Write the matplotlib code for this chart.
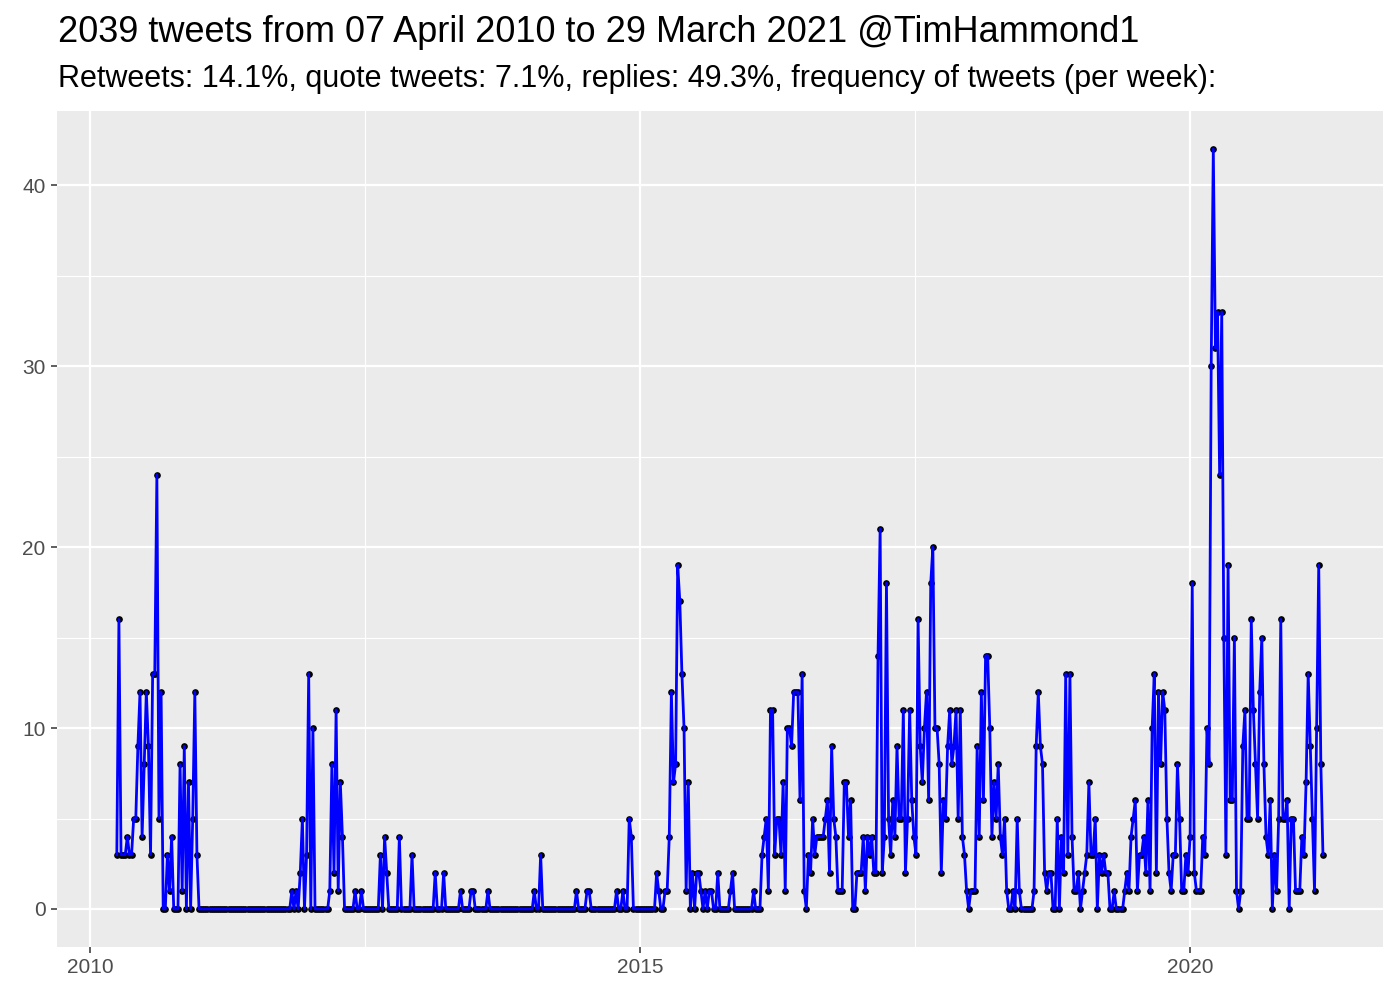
import datetime as dt
import matplotlib
matplotlib.use("Agg")
import matplotlib.pyplot as plt
import matplotlib.dates as mdates
from matplotlib.ticker import MultipleLocator

plt.rcParams['font.family'] = ['Liberation Sans', 'DejaVu Sans']

# weekly tweet counts, first week starting 31 March 2010
first_week = dt.date(2010, 3, 31)

tweets_2010 = [3, 16, 3, 3, 3, 4, 3, 3, 5, 5,
               9, 12, 4, 8, 12, 9, 3, 13, 13, 24,
               5, 12, 0, 0, 3, 1, 4, 0, 0, 0,
               8, 1, 9, 0, 7, 0, 5, 12, 3, 0]
tweets_2011 = [0] * 43 + [1, 0, 1, 0, 2, 5, 0, 3, 13]
tweets_2012 = [0, 10, 0, 0, 0, 0, 0, 0, 0, 1,
               8, 2, 11, 1, 7, 4, 0, 0, 0, 0,
               0, 1, 0, 0, 1, 0, 0, 0, 0, 0,
               0, 0, 0, 3, 0, 4, 2, 0, 0, 0,
               0, 0, 4, 0, 0, 0, 0, 0, 3, 0,
               0, 0]
tweets_2013 = [0, 0, 0, 0, 0, 0, 0, 2, 0, 0,
               0, 2, 0, 0, 0, 0, 0, 0, 0, 1,
               0, 0, 0, 0, 1, 1, 0, 0, 0, 0,
               0, 0, 1, 0, 0, 0, 0, 0, 0, 0,
               0, 0, 0, 0, 0, 0, 0, 0, 0, 0,
               0, 0]
tweets_2014 = [0, 0, 1, 0, 0, 3, 0, 0, 0, 0,
               0, 0, 0, 0, 0, 0, 0, 0, 0, 0,
               0, 0, 1, 0, 0, 0, 0, 1, 1, 0,
               0, 0, 0, 0, 0, 0, 0, 0, 0, 0,
               0, 1, 0, 0, 1, 0, 0, 5, 4, 0,
               0, 0, 0]
tweets_2015 = [0, 0, 0, 0, 0, 0, 0, 2, 1, 0,
               0, 1, 1, 4, 12, 7, 8, 19, 17, 13,
               10, 1, 7, 0, 2, 0, 2, 2, 1, 0,
               1, 0, 1, 1, 0, 0, 2, 0, 0, 0,
               0, 0, 1, 2, 0, 0, 0, 0, 0, 0,
               0, 0]
tweets_2016 = [0, 1, 0, 0, 0, 3, 4, 5, 1, 11,
               11, 3, 5, 5, 3, 7, 1, 10, 10, 9,
               12, 12, 12, 6, 13, 1, 0, 3, 2, 5,
               3, 4, 4, 4, 4, 5, 6, 2, 9, 5,
               4, 1, 1, 1, 7, 7, 4, 6, 0, 0,
               2, 2]
tweets_2017 = [2, 4, 1, 4, 3, 4, 2, 2, 14, 21,
               2, 4, 18, 5, 3, 6, 4, 9, 5, 5,
               11, 2, 5, 11, 6, 4, 3, 16, 9, 7,
               10, 12, 6, 18, 20, 10, 10, 8, 2, 6,
               5, 9, 11, 8, 9, 11, 5, 11, 4, 3,
               1, 0]
tweets_2018 = [1, 1, 1, 9, 4, 12, 6, 14, 14, 10,
               4, 7, 5, 8, 4, 3, 5, 1, 0, 0,
               1, 0, 5, 1, 0, 0, 0, 0, 0, 0,
               1, 9, 12, 9, 8, 2, 1, 2, 2, 0,
               0, 5, 0, 4, 2, 13, 3, 13, 4, 1,
               1, 2]
tweets_2019 = [0, 1, 2, 3, 7, 3, 3, 5, 0, 3,
               2, 3, 2, 2, 0, 0, 1, 0, 0, 0,
               0, 1, 2, 1, 4, 5, 6, 1, 3, 3,
               4, 2, 6, 1, 10, 13, 2, 12, 8, 12,
               11, 5, 2, 1, 3, 3, 8, 5, 1, 1,
               3, 2]
tweets_2020 = [4, 18, 2, 1, 1, 1, 4, 3, 10, 8,
               30, 42, 31, 33, 24, 33, 15, 3, 19, 6,
               6, 15, 1, 0, 1, 9, 11, 5, 5, 16,
               11, 8, 5, 12, 15, 8, 4, 3, 6, 0,
               3, 1, 5, 16, 5, 5, 6, 0, 5, 5,
               1, 1, 1]
tweets_2021 = [4, 3, 7, 13, 9, 5, 1, 10, 19, 8, 3]

counts = (tweets_2010 + tweets_2011 + tweets_2012 + tweets_2013 + tweets_2014
          + tweets_2015 + tweets_2016 + tweets_2017 + tweets_2018 + tweets_2019
          + tweets_2020 + tweets_2021)
weeks = [first_week + dt.timedelta(weeks=i) for i in range(len(counts))]

title = "2039 tweets from 07 April 2010 to 29 March 2021 @TimHammond1"
subtitle = ("Retweets: 14.1%, quote tweets: 7.1%, replies: 49.3%, "
            "frequency of tweets (per week):")

fig = plt.figure(figsize=(14, 10), dpi=100)
ax = fig.add_axes([0.0404, 0.053, 0.9476, 0.836])
ax.set_facecolor('#EBEBEB')

ax.plot(weeks, counts, 'o', color='black', markersize=3.8, zorder=3)
ax.plot(weeks, counts, color='#0000FF', linewidth=2.0, zorder=4,
        solid_joinstyle='round')

# 5% expansion like ggplot
span = weeks[-1] - weeks[0]
pad = span * 0.05
ax.set_xlim(weeks[0] - pad, weeks[-1] + pad)
ax.set_ylim(-0.05 * max(counts), max(counts) * 1.05)

ax.xaxis.set_major_locator(mdates.YearLocator(5))
ax.xaxis.set_major_formatter(mdates.DateFormatter('%Y'))
ax.set_xticks([dt.date(2012, 7, 2), dt.date(2017, 7, 2)], minor=True)
ax.yaxis.set_major_locator(MultipleLocator(10))
ax.yaxis.set_minor_locator(MultipleLocator(5))

ax.grid(which='major', color='white', linewidth=1.6)
ax.grid(which='minor', color='white', linewidth=0.8)
ax.set_axisbelow(True)
for s in ax.spines.values():
    s.set_visible(False)
ax.tick_params(which='major', length=4, width=1.1, color='#333333',
               labelcolor='#4D4D4D', labelsize=15, pad=4)
ax.tick_params(which='minor', length=0)

fig.text(0.0415, 1 - 0.0417, title, fontsize=26, va='baseline', ha='left')
fig.text(0.0415, 1 - 0.0865, subtitle, fontsize=22, va='baseline', ha='left')

fig.savefig('out.png', dpi=100)
